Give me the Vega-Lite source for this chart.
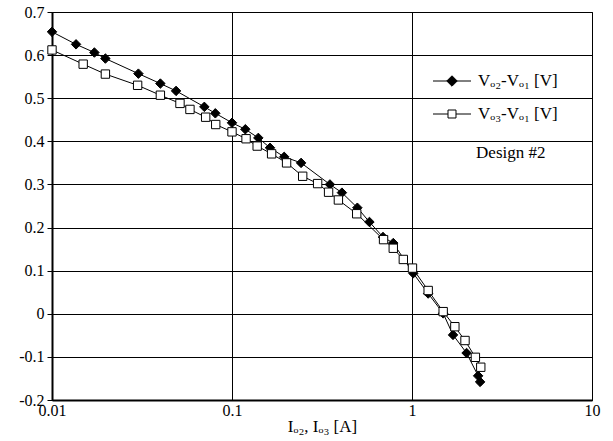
{
  "$schema": "https://vega.github.io/schema/vega-lite/v6.json",
  "width": 540,
  "height": 388,
  "autosize": {"type": "none"},
  "padding": {"left": 52, "top": 12, "right": 21, "bottom": 41},
  "background": "white",
  "config": {
    "view": {"stroke": "black", "strokeWidth": 1},
    "font": "Liberation Serif",
    "axis": {
      "labelFont": "Liberation Serif",
      "titleFont": "Liberation Serif",
      "labelColor": "black",
      "titleColor": "black",
      "gridColor": "black",
      "gridOpacity": 1,
      "gridWidth": 1,
      "domainColor": "black",
      "domainWidth": 2,
      "tickColor": "black"
    },
    "legend": {
      "title": null,
      "orient": "none",
      "legendX": 390,
      "legendY": 59,
      "padding": 0,
      "symbolSize": 361,
      "symbolStrokeWidth": 1,
      "rowPadding": 15,
      "labelFont": "Liberation Serif",
      "labelFontSize": 17,
      "labelColor": "black",
      "labelOffset": 16,
      "labelLimit": 300
    }
  },
  "data": {
    "values": [
      {"series": "Vo2-Vo1", "x": 0.01, "y": 0.654},
      {"series": "Vo2-Vo1", "x": 0.0136, "y": 0.625},
      {"series": "Vo2-Vo1", "x": 0.0172, "y": 0.606},
      {"series": "Vo2-Vo1", "x": 0.0198, "y": 0.592},
      {"series": "Vo2-Vo1", "x": 0.0302, "y": 0.557},
      {"series": "Vo2-Vo1", "x": 0.040, "y": 0.534},
      {"series": "Vo2-Vo1", "x": 0.0489, "y": 0.517},
      {"series": "Vo2-Vo1", "x": 0.0702, "y": 0.480},
      {"series": "Vo2-Vo1", "x": 0.0808, "y": 0.465},
      {"series": "Vo2-Vo1", "x": 0.100, "y": 0.443},
      {"series": "Vo2-Vo1", "x": 0.1186, "y": 0.428},
      {"series": "Vo2-Vo1", "x": 0.140, "y": 0.408},
      {"series": "Vo2-Vo1", "x": 0.1626, "y": 0.385},
      {"series": "Vo2-Vo1", "x": 0.195, "y": 0.364},
      {"series": "Vo2-Vo1", "x": 0.242, "y": 0.350},
      {"series": "Vo2-Vo1", "x": 0.350, "y": 0.300},
      {"series": "Vo2-Vo1", "x": 0.408, "y": 0.281},
      {"series": "Vo2-Vo1", "x": 0.497, "y": 0.246},
      {"series": "Vo2-Vo1", "x": 0.580, "y": 0.213},
      {"series": "Vo2-Vo1", "x": 0.690, "y": 0.178},
      {"series": "Vo2-Vo1", "x": 0.787, "y": 0.164},
      {"series": "Vo2-Vo1", "x": 1.016, "y": 0.094},
      {"series": "Vo2-Vo1", "x": 1.23, "y": 0.047},
      {"series": "Vo2-Vo1", "x": 1.49, "y": 0.001},
      {"series": "Vo2-Vo1", "x": 1.69, "y": -0.049},
      {"series": "Vo2-Vo1", "x": 2.01, "y": -0.091},
      {"series": "Vo2-Vo1", "x": 2.33, "y": -0.144},
      {"series": "Vo2-Vo1", "x": 2.39, "y": -0.158},
      {"series": "Vo3-Vo1", "x": 0.01, "y": 0.612},
      {"series": "Vo3-Vo1", "x": 0.0149, "y": 0.579},
      {"series": "Vo3-Vo1", "x": 0.0198, "y": 0.556},
      {"series": "Vo3-Vo1", "x": 0.0299, "y": 0.530},
      {"series": "Vo3-Vo1", "x": 0.040, "y": 0.507},
      {"series": "Vo3-Vo1", "x": 0.0514, "y": 0.488},
      {"series": "Vo3-Vo1", "x": 0.0584, "y": 0.474},
      {"series": "Vo3-Vo1", "x": 0.0714, "y": 0.456},
      {"series": "Vo3-Vo1", "x": 0.0812, "y": 0.439},
      {"series": "Vo3-Vo1", "x": 0.100, "y": 0.422},
      {"series": "Vo3-Vo1", "x": 0.1197, "y": 0.406},
      {"series": "Vo3-Vo1", "x": 0.138, "y": 0.389},
      {"series": "Vo3-Vo1", "x": 0.166, "y": 0.371},
      {"series": "Vo3-Vo1", "x": 0.201, "y": 0.350},
      {"series": "Vo3-Vo1", "x": 0.247, "y": 0.319},
      {"series": "Vo3-Vo1", "x": 0.299, "y": 0.302},
      {"series": "Vo3-Vo1", "x": 0.344, "y": 0.282},
      {"series": "Vo3-Vo1", "x": 0.390, "y": 0.264},
      {"series": "Vo3-Vo1", "x": 0.493, "y": 0.232},
      {"series": "Vo3-Vo1", "x": 0.695, "y": 0.172},
      {"series": "Vo3-Vo1", "x": 0.787, "y": 0.152},
      {"series": "Vo3-Vo1", "x": 0.895, "y": 0.126},
      {"series": "Vo3-Vo1", "x": 1.006, "y": 0.106},
      {"series": "Vo3-Vo1", "x": 1.23, "y": 0.054},
      {"series": "Vo3-Vo1", "x": 1.49, "y": 0.005},
      {"series": "Vo3-Vo1", "x": 1.73, "y": -0.030},
      {"series": "Vo3-Vo1", "x": 1.97, "y": -0.062},
      {"series": "Vo3-Vo1", "x": 2.25, "y": -0.101},
      {"series": "Vo3-Vo1", "x": 2.41, "y": -0.124}
    ]
  },
  "encoding": {
    "x": {
      "field": "x",
      "type": "quantitative",
      "scale": {"type": "log", "domain": [0.01, 10], "nice": false},
      "axis": {
        "values": [0.01, 0.1, 1, 10],
        "labelExpr": "'' + datum.value",
        "title": "Iₒ₂, Iₒ₃ [A]",
        "ticks": false,
        "grid": true,
        "labelFontSize": 16,
        "titleFontSize": 17,
        "titleFontWeight": "normal",
        "labelPadding": 2,
        "titlePadding": 0,
        "labelFlush": false,
        "labelOverlap": false
      }
    },
    "y": {
      "field": "y",
      "type": "quantitative",
      "scale": {"domain": [-0.2, 0.7], "nice": false, "zero": false},
      "axis": {
        "values": [-0.2, -0.1, 0, 0.1, 0.2, 0.3, 0.4, 0.5, 0.6, 0.7],
        "labelExpr": "replace(format(datum.value, '.1~f'), '−', '-')",
        "title": null,
        "grid": true,
        "tickSize": 5,
        "tickWidth": 1,
        "labelFontSize": 16,
        "labelPadding": 3,
        "labelFlush": false,
        "labelOverlap": false
      }
    }
  },
  "layer": [
    {
      "mark": {"type": "line", "color": "black", "strokeWidth": 1},
      "encoding": {"detail": {"field": "series", "type": "nominal"}}
    },
    {
      "transform": [{"filter": "datum.series == 'Vo2-Vo1'"}],
      "mark": {"type": "point", "shape": "diamond", "filled": true, "fill": "black", "stroke": "black", "strokeWidth": 1, "opacity": 1, "size": 90}
    },
    {
      "transform": [{"filter": "datum.series == 'Vo3-Vo1'"}],
      "mark": {"type": "point", "shape": "square", "filled": true, "fill": "white", "stroke": "black", "strokeWidth": 1, "opacity": 1, "size": 70}
    },
    {
      "transform": [{"filter": "false"}],
      "mark": {"type": "point", "filled": true, "strokeWidth": 1, "opacity": 1},
      "encoding": {
        "shape": {
          "field": "series",
          "type": "nominal",
          "scale": {
            "domain": ["Vo2-Vo1", "Vo3-Vo1"],
            "range": ["M-2,0H2M0,-0.55L0.55,0L0,0.55L-0.55,0Z", "M-2,0H-0.42M0.42,0H2M-0.42,-0.42H0.42V0.42H-0.42Z"]
          },
          "legend": {
            "labelExpr": "datum.value == 'Vo2-Vo1' ? 'Vₒ₂-Vₒ₁ [V]' : 'Vₒ₃-Vₒ₁ [V]'"
          }
        },
        "fill": {
          "field": "series",
          "type": "nominal",
          "scale": {"domain": ["Vo2-Vo1", "Vo3-Vo1"], "range": ["black", "white"]},
          "legend": {
            "labelExpr": "datum.value == 'Vo2-Vo1' ? 'Vₒ₂-Vₒ₁ [V]' : 'Vₒ₃-Vₒ₁ [V]'"
          }
        },
        "stroke": {
          "field": "series",
          "type": "nominal",
          "scale": {"domain": ["Vo2-Vo1", "Vo3-Vo1"], "range": ["black", "black"]},
          "legend": {
            "labelExpr": "datum.value == 'Vo2-Vo1' ? 'Vₒ₂-Vₒ₁ [V]' : 'Vₒ₃-Vₒ₁ [V]'"
          }
        }
      }
    },
    {
      "transform": [{"filter": "datum.series == 'Vo2-Vo1' && datum.x == 0.01"}],
      "mark": {"type": "text", "align": "left", "baseline": "middle", "font": "Liberation Serif", "fontSize": 17, "color": "black"},
      "encoding": {
        "x": {"datum": 2.27},
        "y": {"datum": 0.373},
        "text": {"value": "Design #2"}
      }
    }
  ]
}
